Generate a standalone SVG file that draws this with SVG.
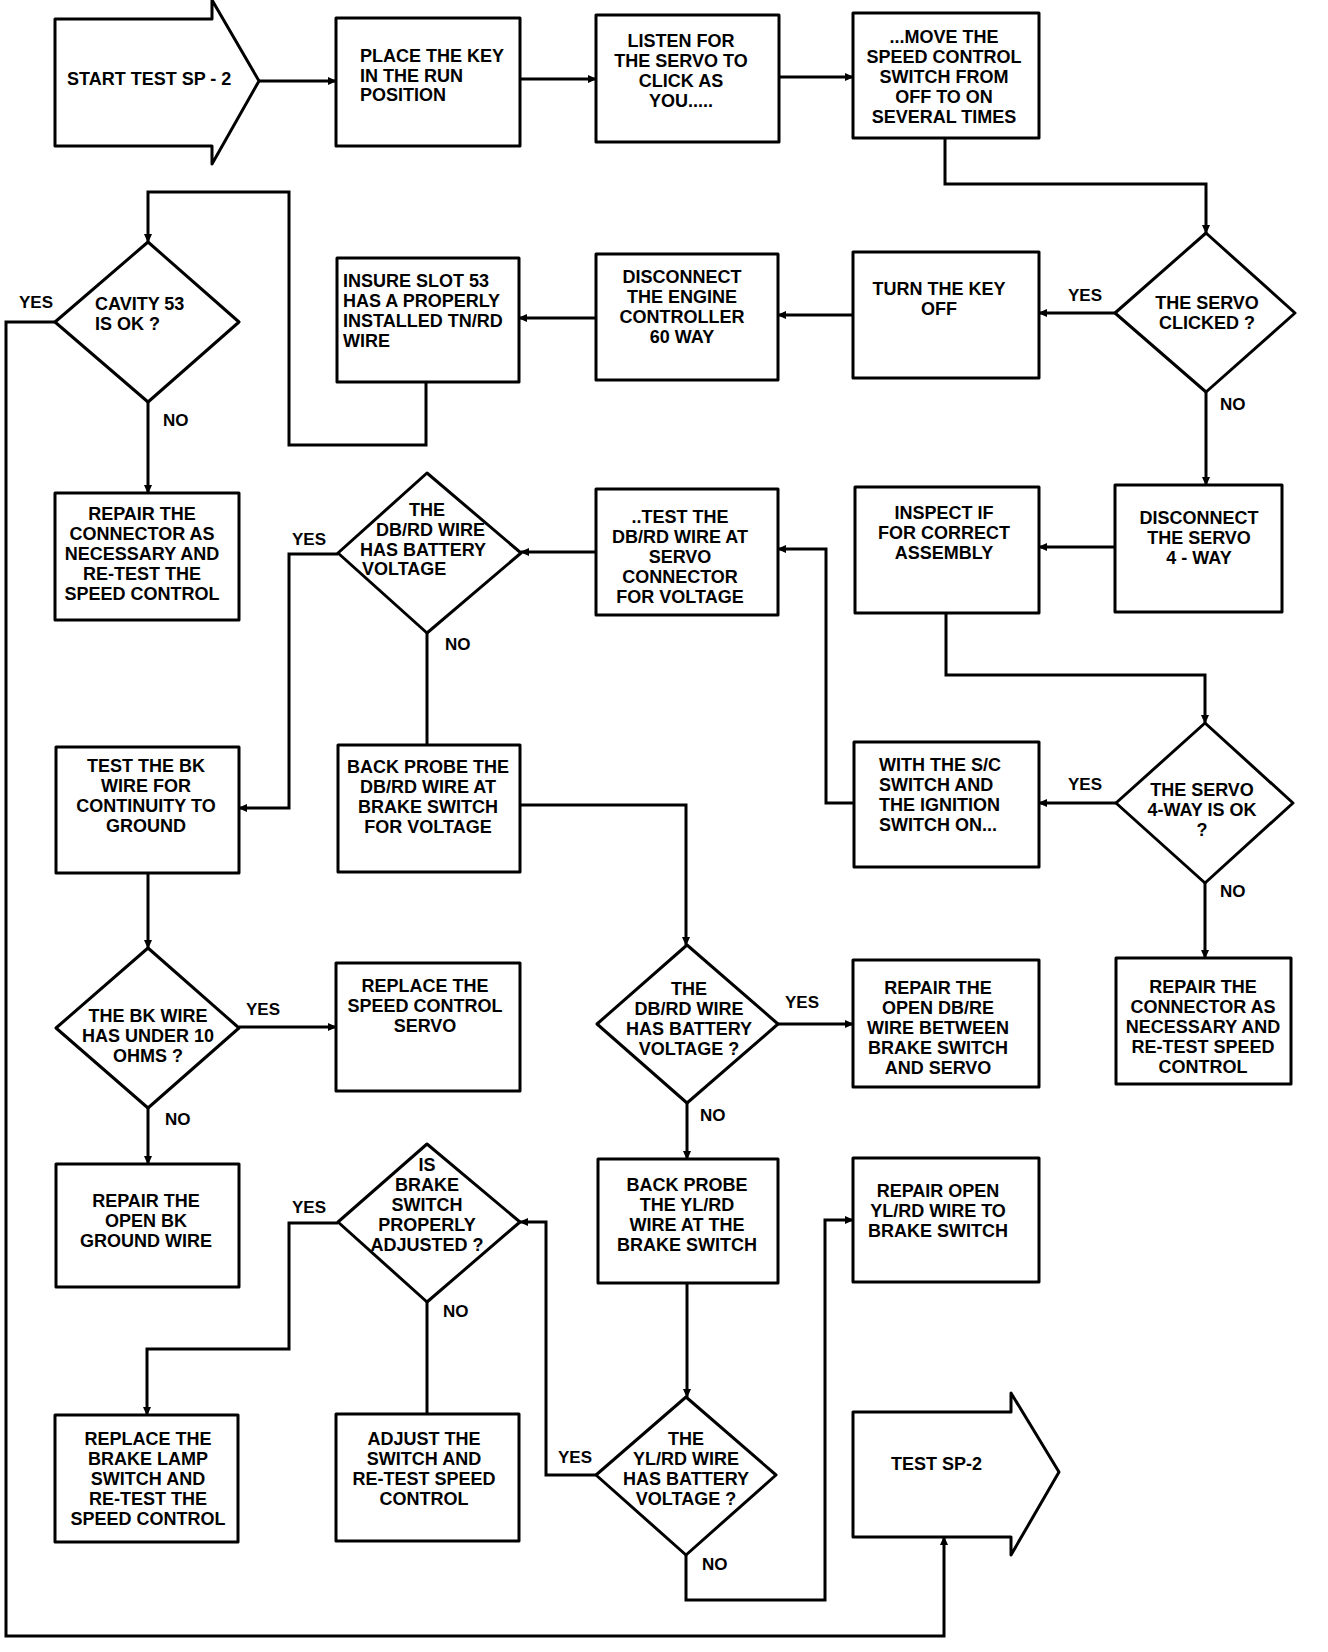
<svg xmlns="http://www.w3.org/2000/svg" width="1328" height="1652" viewBox="0 0 1328 1652">
<style>
.box{fill:#fff;stroke:#000;stroke-width:3;stroke-linejoin:round}
.t{font-family:"Liberation Sans",Arial,Helvetica,sans-serif;font-weight:bold;font-size:18px;fill:#000}
.c{text-anchor:middle}
.lbl{font-size:17px}
.w{fill:none;stroke:#000;stroke-width:3;stroke-linejoin:miter}
.a{marker-end:url(#ah)}
</style>
<defs>
<marker id="ah" markerUnits="userSpaceOnUse" markerWidth="9" markerHeight="8" refX="8" refY="4" orient="auto">
<path d="M0,0 L9,4 L0,8 z" fill="#000"/>
</marker>
</defs>
<rect width="1328" height="1652" fill="#fff"/>

<g id="start">
<polygon class="box" points="55,19 212,19 212,0 259,81 212,164 212,146 55,146"/>
<text class="t" x="67" y="85">START TEST SP - 2</text>
</g>
<g id="place-key">
<rect class="box" x="336" y="18" width="184" height="128"/>
<text class="t" x="360" y="62">PLACE THE KEY</text>
<text class="t" x="360" y="82">IN THE RUN</text>
<text class="t" x="360" y="101">POSITION</text>
</g>
<g id="listen">
<rect class="box" x="596" y="15" width="183" height="127"/>
<text class="t c" x="681" y="47">LISTEN FOR</text>
<text class="t c" x="681" y="67">THE SERVO TO</text>
<text class="t c" x="681" y="87">CLICK AS</text>
<text class="t c" x="681" y="107">YOU.....</text>
</g>
<g id="move-switch">
<rect class="box" x="853" y="13" width="186" height="125"/>
<text class="t c" x="944" y="43">...MOVE THE</text>
<text class="t c" x="944" y="63">SPEED CONTROL</text>
<text class="t c" x="944" y="83">SWITCH FROM</text>
<text class="t c" x="944" y="103">OFF TO ON</text>
<text class="t c" x="944" y="123">SEVERAL TIMES</text>
</g>
<g id="servo-clicked">
<polygon class="box" points="1206,233 1295,313 1206,392 1115,313"/>
<text class="t c" x="1207" y="309">THE SERVO</text>
<text class="t c" x="1207" y="329">CLICKED ?</text>
</g>
<g id="turn-key-off">
<rect class="box" x="853" y="252" width="186" height="126"/>
<text class="t c" x="939" y="295">TURN THE KEY</text>
<text class="t c" x="939" y="315">OFF</text>
</g>
<g id="disconnect-ecm">
<rect class="box" x="596" y="254" width="182" height="126"/>
<text class="t c" x="682" y="283">DISCONNECT</text>
<text class="t c" x="682" y="303">THE ENGINE</text>
<text class="t c" x="682" y="323">CONTROLLER</text>
<text class="t c" x="682" y="343">60 WAY</text>
</g>
<g id="insure-slot">
<rect class="box" x="337" y="258" width="182" height="124"/>
<text class="t" x="343" y="287">INSURE SLOT 53</text>
<text class="t" x="343" y="307">HAS A PROPERLY</text>
<text class="t" x="343" y="327">INSTALLED TN/RD</text>
<text class="t" x="343" y="347">WIRE</text>
</g>
<g id="cavity-ok">
<polygon class="box" points="148,242 239,322 148,402 55,322"/>
<text class="t" x="95" y="310">CAVITY 53</text>
<text class="t" x="95" y="330">IS OK ?</text>
</g>
<g id="repair-connector-1">
<rect class="box" x="55" y="493" width="184" height="127"/>
<text class="t c" x="142" y="520">REPAIR THE</text>
<text class="t c" x="142" y="540">CONNECTOR AS</text>
<text class="t c" x="142" y="560">NECESSARY AND</text>
<text class="t c" x="142" y="580">RE-TEST THE</text>
<text class="t c" x="142" y="600">SPEED CONTROL</text>
</g>
<g id="dbrd-battery-1">
<polygon class="box" points="427,473 521,553 427,633 338,553"/>
<text class="t c" x="427" y="516">THE</text>
<text class="t" x="376" y="536">DB/RD WIRE</text>
<text class="t" x="360" y="556">HAS BATTERY</text>
<text class="t" x="362" y="575">VOLTAGE</text>
</g>
<g id="test-dbrd">
<rect class="box" x="596" y="489" width="182" height="126"/>
<text class="t c" x="680" y="523">..TEST THE</text>
<text class="t c" x="680" y="543">DB/RD WIRE AT</text>
<text class="t c" x="680" y="563">SERVO</text>
<text class="t c" x="680" y="583">CONNECTOR</text>
<text class="t c" x="680" y="603">FOR VOLTAGE</text>
</g>
<g id="inspect">
<rect class="box" x="855" y="487" width="184" height="126"/>
<text class="t c" x="944" y="519">INSPECT IF</text>
<text class="t c" x="944" y="539">FOR CORRECT</text>
<text class="t c" x="944" y="559">ASSEMBLY</text>
</g>
<g id="disconnect-servo">
<rect class="box" x="1115" y="485" width="167" height="127"/>
<text class="t c" x="1199" y="524">DISCONNECT</text>
<text class="t c" x="1199" y="544">THE SERVO</text>
<text class="t c" x="1199" y="564">4 - WAY</text>
</g>
<g id="test-bk">
<rect class="box" x="56" y="747" width="183" height="126"/>
<text class="t c" x="146" y="772">TEST THE BK</text>
<text class="t c" x="146" y="792">WIRE FOR</text>
<text class="t c" x="146" y="812">CONTINUITY TO</text>
<text class="t c" x="146" y="832">GROUND</text>
</g>
<g id="back-probe-dbrd">
<rect class="box" x="338" y="745" width="182" height="127"/>
<text class="t c" x="428" y="773">BACK PROBE THE</text>
<text class="t c" x="428" y="793">DB/RD WIRE AT</text>
<text class="t c" x="428" y="813">BRAKE SWITCH</text>
<text class="t c" x="428" y="833">FOR VOLTAGE</text>
</g>
<g id="with-sc-switch">
<rect class="box" x="854" y="742" width="185" height="125"/>
<text class="t" x="879" y="771">WITH THE S/C</text>
<text class="t" x="879" y="791">SWITCH AND</text>
<text class="t" x="879" y="811">THE IGNITION</text>
<text class="t" x="879" y="831">SWITCH ON...</text>
</g>
<g id="servo-4way-ok">
<polygon class="box" points="1205,723 1293,803 1205,883 1116,803"/>
<text class="t c" x="1202" y="796">THE SERVO</text>
<text class="t c" x="1202" y="816">4-WAY IS OK</text>
<text class="t c" x="1202" y="836">?</text>
</g>
<g id="bk-under-10">
<polygon class="box" points="148,948 239,1028 148,1108 56,1028"/>
<text class="t c" x="148" y="1022">THE BK WIRE</text>
<text class="t c" x="148" y="1042">HAS UNDER 10</text>
<text class="t c" x="148" y="1062">OHMS ?</text>
</g>
<g id="replace-servo">
<rect class="box" x="336" y="963" width="184" height="128"/>
<text class="t c" x="425" y="992">REPLACE THE</text>
<text class="t c" x="425" y="1012">SPEED CONTROL</text>
<text class="t c" x="425" y="1032">SERVO</text>
</g>
<g id="dbrd-battery-2">
<polygon class="box" points="687,945 778,1024 687,1103 597,1024"/>
<text class="t c" x="689" y="995">THE</text>
<text class="t c" x="689" y="1015">DB/RD WIRE</text>
<text class="t c" x="689" y="1035">HAS BATTERY</text>
<text class="t c" x="689" y="1055">VOLTAGE ?</text>
</g>
<g id="repair-dbre">
<rect class="box" x="853" y="960" width="186" height="127"/>
<text class="t c" x="938" y="994">REPAIR THE</text>
<text class="t c" x="938" y="1014">OPEN DB/RE</text>
<text class="t c" x="938" y="1034">WIRE BETWEEN</text>
<text class="t c" x="938" y="1054">BRAKE SWITCH</text>
<text class="t c" x="938" y="1074">AND SERVO</text>
</g>
<g id="repair-connector-2">
<rect class="box" x="1116" y="958" width="175" height="126"/>
<text class="t c" x="1203" y="993">REPAIR THE</text>
<text class="t c" x="1203" y="1013">CONNECTOR AS</text>
<text class="t c" x="1203" y="1033">NECESSARY AND</text>
<text class="t c" x="1203" y="1053">RE-TEST SPEED</text>
<text class="t c" x="1203" y="1073">CONTROL</text>
</g>
<g id="repair-bk">
<rect class="box" x="56" y="1164" width="183" height="123"/>
<text class="t c" x="146" y="1207">REPAIR THE</text>
<text class="t c" x="146" y="1227">OPEN BK</text>
<text class="t c" x="146" y="1247">GROUND WIRE</text>
</g>
<g id="brake-adjusted">
<polygon class="box" points="427,1144 520,1222 427,1302 338,1222"/>
<text class="t c" x="427" y="1171">IS</text>
<text class="t c" x="427" y="1191">BRAKE</text>
<text class="t c" x="427" y="1211">SWITCH</text>
<text class="t c" x="427" y="1231">PROPERLY</text>
<text class="t c" x="427" y="1251">ADJUSTED ?</text>
</g>
<g id="back-probe-ylrd">
<rect class="box" x="598" y="1159" width="180" height="124"/>
<text class="t c" x="687" y="1191">BACK PROBE</text>
<text class="t c" x="687" y="1211">THE YL/RD</text>
<text class="t c" x="687" y="1231">WIRE AT THE</text>
<text class="t c" x="687" y="1251">BRAKE SWITCH</text>
</g>
<g id="repair-ylrd">
<rect class="box" x="853" y="1158" width="186" height="124"/>
<text class="t c" x="938" y="1197">REPAIR OPEN</text>
<text class="t c" x="938" y="1217">YL/RD WIRE TO</text>
<text class="t c" x="938" y="1237">BRAKE SWITCH</text>
</g>
<g id="replace-brake-lamp">
<rect class="box" x="55" y="1415" width="183" height="127"/>
<text class="t c" x="148" y="1445">REPLACE THE</text>
<text class="t c" x="148" y="1465">BRAKE LAMP</text>
<text class="t c" x="148" y="1485">SWITCH AND</text>
<text class="t c" x="148" y="1505">RE-TEST THE</text>
<text class="t c" x="148" y="1525">SPEED CONTROL</text>
</g>
<g id="adjust-switch">
<rect class="box" x="336" y="1414" width="183" height="127"/>
<text class="t c" x="424" y="1445">ADJUST THE</text>
<text class="t c" x="424" y="1465">SWITCH AND</text>
<text class="t c" x="424" y="1485">RE-TEST SPEED</text>
<text class="t c" x="424" y="1505">CONTROL</text>
</g>
<g id="ylrd-battery">
<polygon class="box" points="686,1397 776,1475 686,1555 596,1475"/>
<text class="t c" x="686" y="1445">THE</text>
<text class="t c" x="686" y="1465">YL/RD WIRE</text>
<text class="t c" x="686" y="1485">HAS BATTERY</text>
<text class="t c" x="686" y="1505">VOLTAGE ?</text>
</g>
<g id="test-sp2">
<polygon class="box" points="853,1412 1011,1412 1011,1393 1059,1472 1011,1555 1011,1537 853,1537"/>
<text class="t" x="891" y="1470">TEST SP-2</text>
</g>

<g id="connectors">
<path class="w a" d="M259,81 H336"/>
<path class="w a" d="M520,79 H596"/>
<path class="w a" d="M779,77 H853"/>
<path class="w a" d="M945,138 V184 H1206 V233"/>
<path class="w a" d="M1115,313 H1039"/>
<path class="w a" d="M853,315 H778"/>
<path class="w a" d="M596,318 H519"/>
<path class="w a" d="M426,382 V445 H289 V192 H148 V242"/>
<path class="w a" d="M148,402 V493"/>
<path class="w a" d="M55,322 H6 V1636 H944 V1537"/>
<path class="w a" d="M1206,392 V485"/>
<path class="w a" d="M1115,547 H1039"/>
<path class="w a" d="M946,613 V675 H1205 V723"/>
<path class="w a" d="M1116,803 H1039"/>
<path class="w a" d="M854,803 H826 V549 H778"/>
<path class="w a" d="M596,552 H521"/>
<path class="w a" d="M338,554 H289 V808 H239"/>
<path class="w" d="M427,633 V745"/>
<path class="w a" d="M520,805 H686 V945"/>
<path class="w a" d="M1205,883 V958"/>
<path class="w a" d="M148,873 V948"/>
<path class="w a" d="M239,1027 H336"/>
<path class="w a" d="M148,1108 V1164"/>
<path class="w a" d="M778,1024 H853"/>
<path class="w a" d="M687,1103 V1159"/>
<path class="w a" d="M687,1283 V1397"/>
<path class="w a" d="M686,1555 V1600 H825 V1220 H853"/>
<path class="w a" d="M596,1475 H546 V1222 H520"/>
<path class="w a" d="M338,1223 H289 V1349 H147 V1415"/>
<path class="w" d="M427,1302 V1414"/>
<text class="t lbl" x="1068" y="301">YES</text>
<text class="t lbl" x="1220" y="410">NO</text>
<text class="t lbl" x="19" y="308">YES</text>
<text class="t lbl" x="163" y="426">NO</text>
<text class="t lbl" x="292" y="545">YES</text>
<text class="t lbl" x="445" y="650">NO</text>
<text class="t lbl" x="1068" y="790">YES</text>
<text class="t lbl" x="1220" y="897">NO</text>
<text class="t lbl" x="246" y="1015">YES</text>
<text class="t lbl" x="165" y="1125">NO</text>
<text class="t lbl" x="785" y="1008">YES</text>
<text class="t lbl" x="700" y="1121">NO</text>
<text class="t lbl" x="292" y="1213">YES</text>
<text class="t lbl" x="443" y="1317">NO</text>
<text class="t lbl" x="558" y="1463">YES</text>
<text class="t lbl" x="702" y="1570">NO</text>
</g>
</svg>
